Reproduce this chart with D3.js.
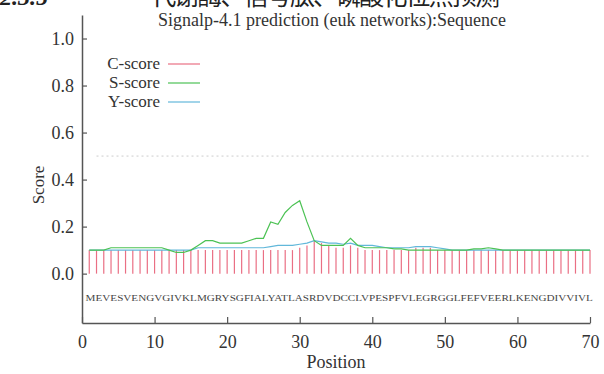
<!DOCTYPE html>
<html>
<head>
<meta charset="utf-8">
<script src="https://cdn.jsdelivr.net/npm/d3@7"></script>
<style>
  body { margin: 0; background: #fff; }
  svg { display: block; }
  text { font-family: "Liberation Serif", "Times New Roman", Times, serif; }
</style>
</head>
<body>
<div id="chart"></div>
<script>
// Chart data
var positions = [1,2,3,4,5,6,7,8,9,10,11,12,13,14,15,16,17,18,19,20,
  21,22,23,24,25,26,27,28,29,30,31,32,33,34,35,36,37,38,39,40,
  41,42,43,44,45,46,47,48,49,50,51,52,53,54,55,56,57,58,59,60,
  61,62,63,64,65,66,67,68,69,70];

var cScore = [0.10,0.10,0.10,0.10,0.10,0.10,0.10,0.10,0.10,0.10,
  0.10,0.10,0.10,0.10,0.10,0.10,0.10,0.10,0.10,0.10,
  0.10,0.10,0.10,0.10,0.10,0.10,0.10,0.10,0.10,0.11,
  0.12,0.14,0.13,0.12,0.11,0.11,0.12,0.11,0.10,0.10,
  0.10,0.10,0.10,0.10,0.10,0.11,0.11,0.11,0.10,0.10,
  0.10,0.10,0.10,0.10,0.10,0.10,0.10,0.10,0.10,0.10,
  0.10,0.10,0.10,0.10,0.10,0.10,0.10,0.10,0.10,0.10];

var sScore = [0.10,0.10,0.10,0.11,0.11,0.11,0.11,0.11,0.11,0.11,
  0.11,0.10,0.09,0.09,0.10,0.12,0.14,0.14,0.13,0.13,
  0.13,0.13,0.14,0.15,0.15,0.22,0.21,0.26,0.29,0.31,
  0.22,0.14,0.12,0.12,0.12,0.12,0.15,0.12,0.11,0.11,
  0.11,0.11,0.105,0.105,0.10,0.10,0.10,0.10,0.10,0.10,
  0.10,0.10,0.10,0.105,0.105,0.11,0.105,0.10,0.10,0.10,
  0.10,0.10,0.10,0.10,0.10,0.10,0.10,0.10,0.10,0.10];

var yScore = [0.10,0.10,0.10,0.10,0.10,0.10,0.10,0.10,0.10,0.10,
  0.10,0.10,0.10,0.10,0.10,0.11,0.11,0.11,0.11,0.11,
  0.11,0.11,0.11,0.11,0.11,0.115,0.12,0.12,0.12,0.125,
  0.13,0.14,0.135,0.13,0.13,0.125,0.13,0.12,0.12,0.12,
  0.115,0.11,0.11,0.11,0.11,0.115,0.115,0.115,0.11,0.105,
  0.10,0.10,0.10,0.10,0.10,0.10,0.10,0.10,0.10,0.10,
  0.10,0.10,0.10,0.10,0.10,0.10,0.10,0.10,0.10,0.10];

var sequence = "MEVESVENGVGIVKLMGRYSGFIALYATLASRDVDCCLVPESPFVLEGRGGLFEFVEERLKENGDIVVIVL";
var cutoff = 0.5;

var xTicks = [0,10,20,30,40,50,60,70];
var yTicks = [0,0.2,0.4,0.6,0.8,1.0];

var legendNames = ["C-score","S-score","Y-score"];
var colors = { "C-score": "#ea6f84", "S-score": "#4cc254", "Y-score": "#62b8da" };

var width = 604, height = 374;

var svg = d3.select("#chart").append("svg")
    .attr("width", width)
    .attr("height", height);

// Scales
var x = d3.scaleLinear().domain([0, 70]).range([82, 590]);
var y = d3.scaleLinear().domain([-0.21, 1.1]).range([323, 15]);

// Cut-off heading from the page above (only its lower part shows)
svg.append("text")
    .attr("x", 0).attr("y", 5)
    .style("font-size", "24px")
    .style("font-weight", "bold")
    .style("font-style", "italic")
    .attr("fill", "#222")
    .text("2.3.5");

svg.append("text")
    .attr("x", 128).attr("y", 5)
    .attr("textLength", 372)
    .attr("lengthAdjust", "spacing")
    .style("font-family", "'Noto Sans CJK SC', sans-serif")
    .style("font-size", "25px")
    .attr("fill", "#222")
    .text("一代谢酶、信号肽、磷酸化位点预测");

// Title
svg.append("text")
    .attr("x", 332).attr("y", 26)
    .attr("text-anchor", "middle")
    .style("font-size", "18px")
    .attr("fill", "#333")
    .text("Signalp-4.1 prediction (euk networks):Sequence");

// Cut-off line
svg.append("line")
    .attr("x1", x(2)).attr("x2", x(70))
    .attr("y1", y(cutoff)).attr("y2", y(cutoff))
    .attr("stroke", "#cccccc")
    .attr("stroke-width", 1)
    .attr("stroke-dasharray", "2,3");

// C-score impulses
svg.selectAll(".cbar")
    .data(positions)
    .join("line")
    .attr("class", "cbar")
    .attr("x1", d => x(d)).attr("x2", d => x(d))
    .attr("y1", y(0))
    .attr("y2", (d, i) => y(cScore[i]))
    .attr("stroke", colors["C-score"])
    .attr("stroke-width", 1.2);

// S and Y score lines
var line = d3.line()
    .x(d => x(d[0]))
    .y(d => y(d[1]));

svg.append("path")
    .datum(d3.zip(positions, yScore))
    .attr("d", line)
    .attr("fill", "none")
    .attr("stroke", colors["Y-score"])
    .attr("stroke-width", 1.2);

svg.append("path")
    .datum(d3.zip(positions, sScore))
    .attr("d", line)
    .attr("fill", "none")
    .attr("stroke", colors["S-score"])
    .attr("stroke-width", 1.2);

// Sequence letters
svg.append("text")
    .attr("x", x(0.5)).attr("y", 301)
    .attr("textLength", x(70.4) - x(0.5))
    .attr("lengthAdjust", "spacingAndGlyphs")
    .style("font-size", "8.5px")
    .attr("fill", "#444")
    .text(sequence);

// Axes
var yAxis = svg.append("g")
    .attr("transform", "translate(82,0)")
    .call(d3.axisLeft(y).tickValues(yTicks).tickFormat(d3.format(".1f"))
        .tickSize(-5).tickSizeOuter(0).tickPadding(8));

var xAxis = svg.append("g")
    .attr("transform", "translate(0,323)")
    .call(d3.axisBottom(x).tickValues(xTicks).tickFormat(d3.format("d"))
        .tickSize(-6).tickSizeOuter(0).tickPadding(12));

[yAxis, xAxis].forEach(function (g) {
    g.select(".domain").attr("stroke", "#555").attr("stroke-width", 1.5);
    g.selectAll(".tick line").attr("stroke", "#555").attr("stroke-width", 1.2);
    g.selectAll(".tick text")
        .attr("fill", "#333")
        .style("font-family", "'Liberation Serif', 'Times New Roman', serif")
        .style("font-size", "18px");
});

// Axis labels
svg.append("text")
    .attr("transform", "translate(44,185) rotate(-90)")
    .attr("text-anchor", "middle")
    .style("font-size", "17px")
    .attr("fill", "#333")
    .text("Score");

svg.append("text")
    .attr("x", 336).attr("y", 368)
    .attr("text-anchor", "middle")
    .style("font-size", "18px")
    .attr("fill", "#333")
    .text("Position");

// Legend
var legend = svg.selectAll(".legend")
    .data(legendNames)
    .join("g")
    .attr("class", "legend")
    .attr("transform", (d, i) => "translate(0," + (69 + i * 19) + ")");

legend.append("text")
    .attr("x", 160).attr("y", 0)
    .attr("text-anchor", "end")
    .style("font-size", "17px")
    .attr("fill", "#333")
    .text(d => d);

legend.append("line")
    .attr("x1", 168).attr("x2", 200)
    .attr("y1", -5).attr("y2", -5)
    .attr("stroke", d => colors[d])
    .attr("stroke-width", 1.2);
</script>
</body>
</html>
